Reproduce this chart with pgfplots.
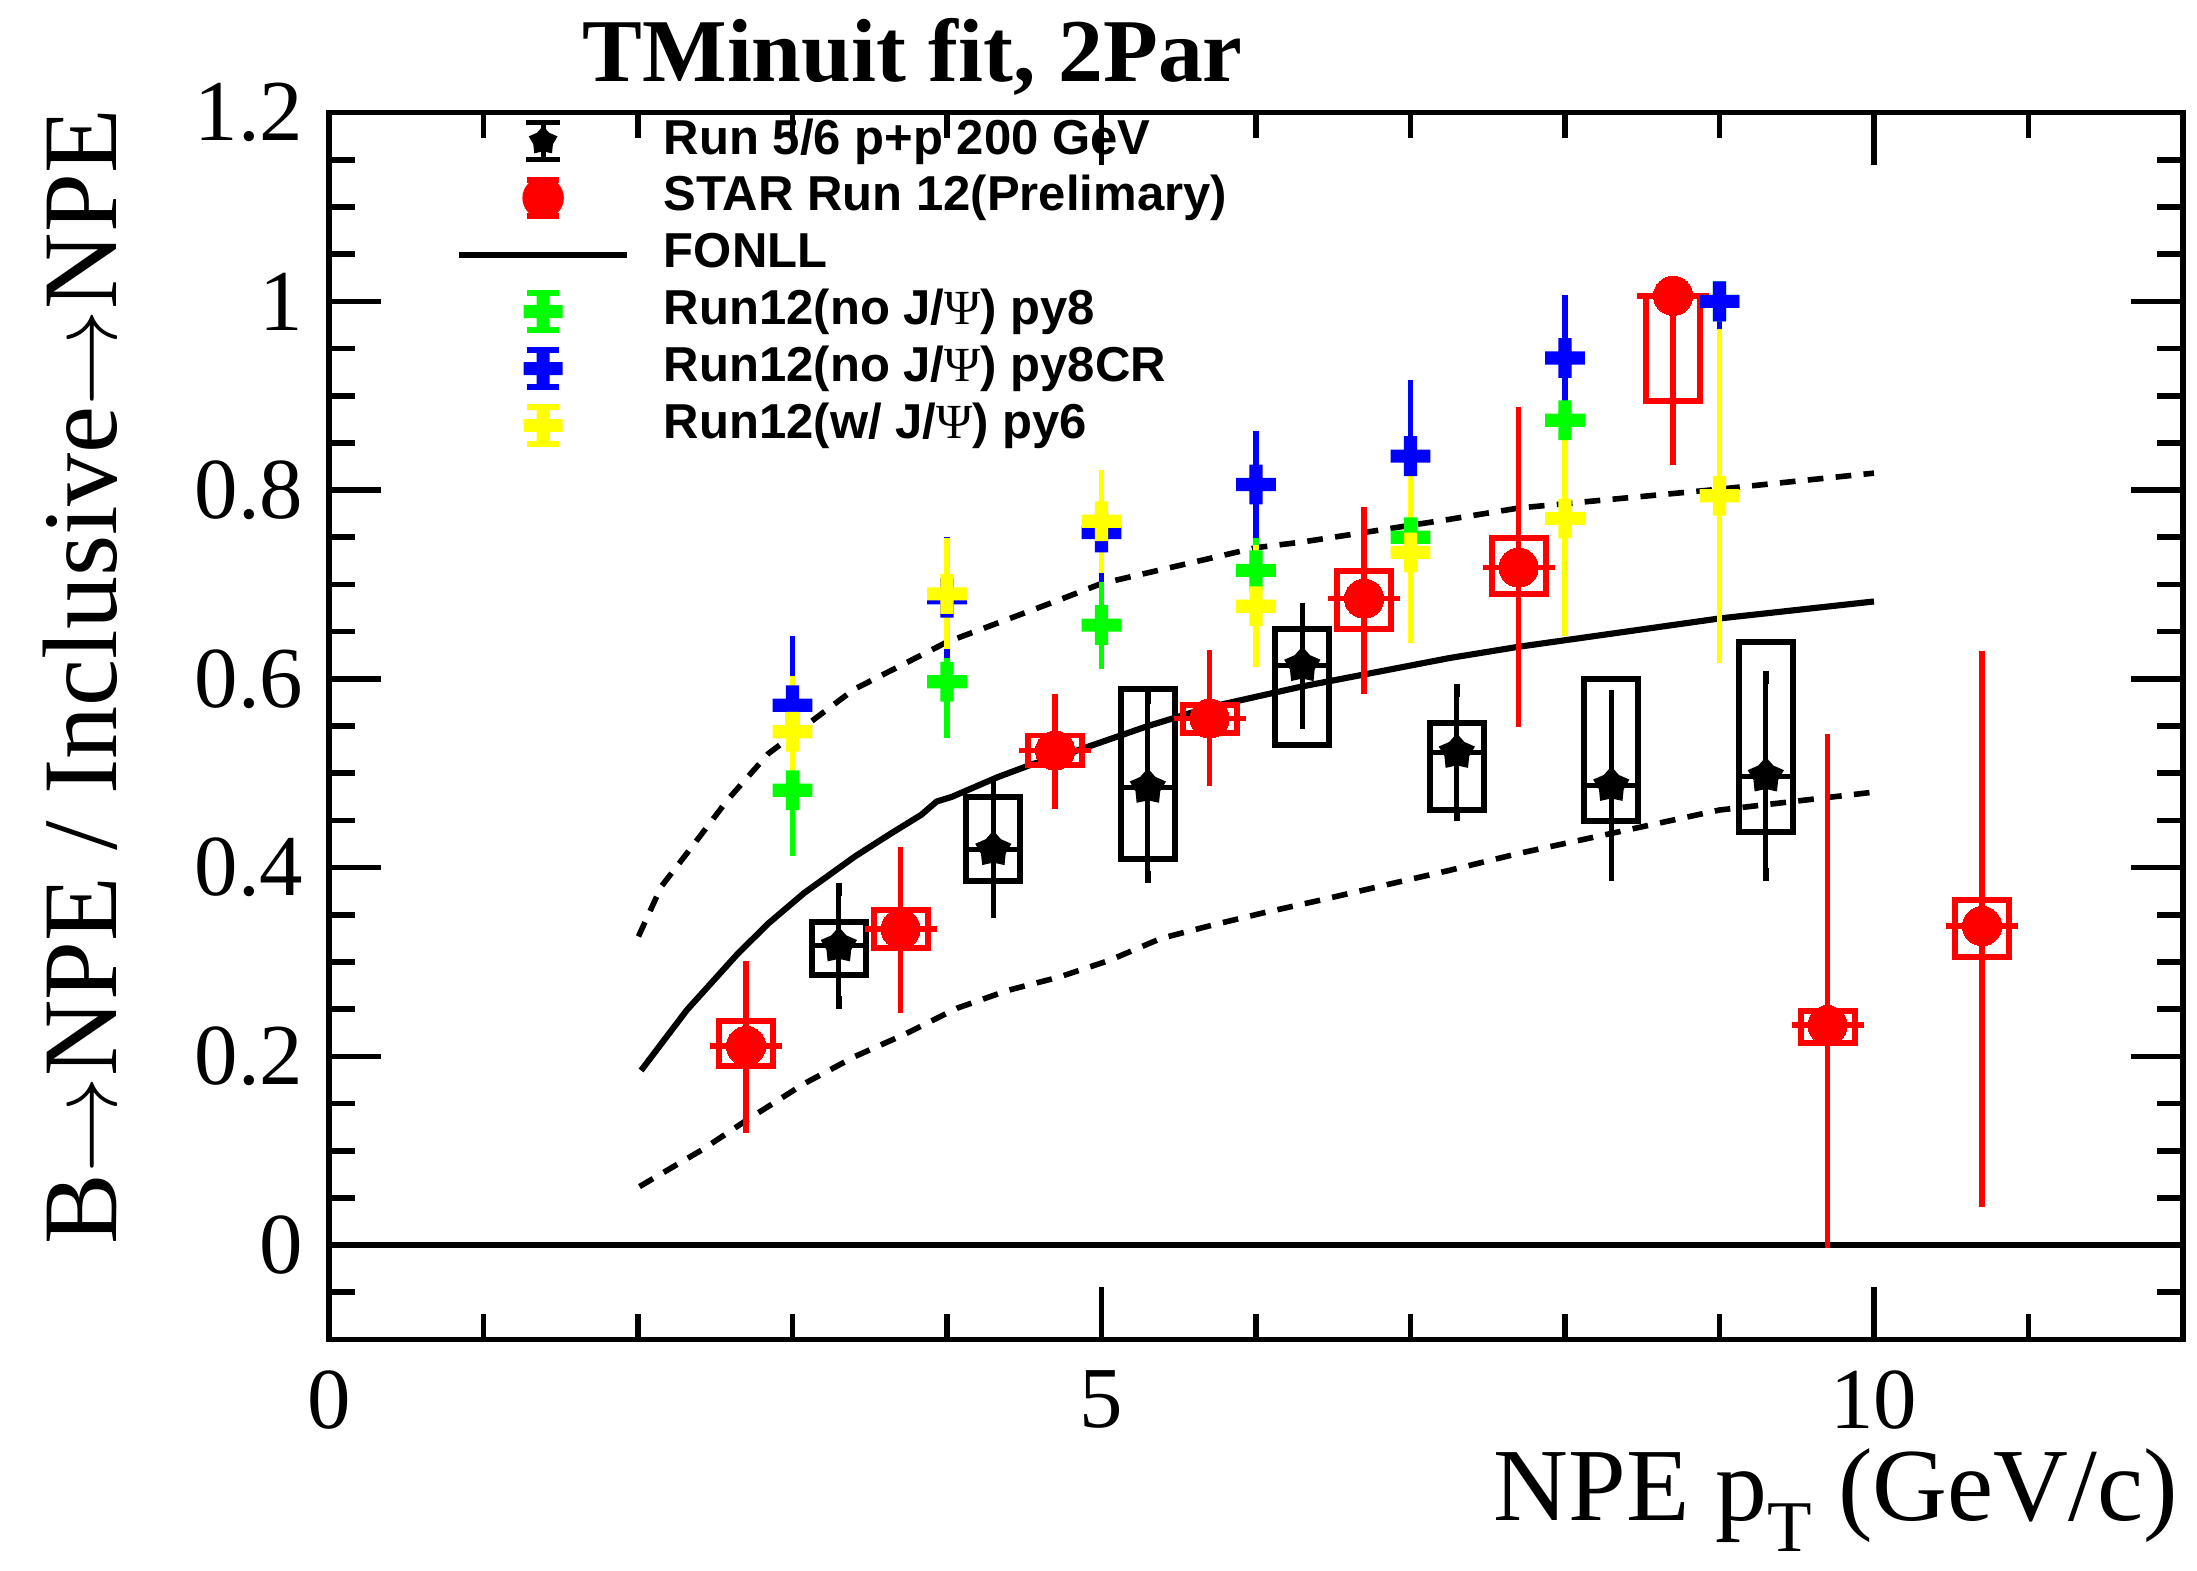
\documentclass[border=0pt]{standalone}
\usepackage{fontspec}
\setmainfont{Liberation Serif}
\newfontfamily\legfont{Liberation Sans}
\usepackage{pgfplots}
\pgfplotsset{compat=1.18}

\definecolor{rootred}{RGB}{255,0,0}
\definecolor{rootgreen}{RGB}{0,255,0}
\definecolor{rootblue}{RGB}{0,0,255}
\definecolor{rootyellow}{RGB}{255,255,0}

% thick ROOT-style cross (marker 34)
\pgfdeclareplotmark{fplus}{%
  \pgfpathrectanglecorners{\pgfpoint{-\pgfplotmarksize}{-0.33\pgfplotmarksize}}{\pgfpoint{\pgfplotmarksize}{0.33\pgfplotmarksize}}%
  \pgfpathrectanglecorners{\pgfpoint{-0.33\pgfplotmarksize}{-\pgfplotmarksize}}{\pgfpoint{0.33\pgfplotmarksize}{\pgfplotmarksize}}%
  \pgfusepathqfill}
% filled star (marker 29)
\pgfdeclareplotmark{fstar}{%
  \pgfpathmoveto{\pgfpointpolar{90}{\pgfplotmarksize}}%
  \pgfpathlineto{\pgfpointpolar{126}{0.68\pgfplotmarksize}}%
  \pgfpathlineto{\pgfpointpolar{162}{\pgfplotmarksize}}%
  \pgfpathlineto{\pgfpointpolar{198}{0.68\pgfplotmarksize}}%
  \pgfpathlineto{\pgfpointpolar{234}{\pgfplotmarksize}}%
  \pgfpathlineto{\pgfpointpolar{270}{0.68\pgfplotmarksize}}%
  \pgfpathlineto{\pgfpointpolar{306}{\pgfplotmarksize}}%
  \pgfpathlineto{\pgfpointpolar{342}{0.68\pgfplotmarksize}}%
  \pgfpathlineto{\pgfpointpolar{18}{\pgfplotmarksize}}%
  \pgfpathlineto{\pgfpointpolar{54}{0.68\pgfplotmarksize}}%
  \pgfpathclose\pgfusepathqfill}

\newcommand{\psiglyph}{{\rmfamily\mdseries Ψ}}
\newcommand{\arr}{\mbox{$\rightarrow$}}

\begin{document}
\begin{tikzpicture}
\useasboundingbox (0,0) rectangle (392pt,280.25pt);

\begin{axis}[at={(58.7pt,41.25pt)}, anchor=south west, scale only axis,
    width=330.8pt, height=218.9pt,
    xmin=0, xmax=12, ymin=-0.1, ymax=1.2,
    xtick={0,5,10}, minor xtick={1,2,3,4,6,7,8,9,11},
    ytick={0,0.2,0.4,0.6,0.8,1,1.2},
    minor ytick={-0.05,0.05,0.1,0.15,0.25,0.3,0.35,0.45,0.5,0.55,0.65,0.7,0.75,0.85,0.9,0.95,1.05,1.1,1.15},
    tick pos=both, tick align=inside,
    major tick length=9.3pt, minor tick length=4.6pt,
    axis line style={line width=1pt}, tick style={line width=1pt, black},
    /pgf/number format/assume math mode=true,
    tick label style={font=\fontsize{15.5}{16}\selectfont},
    yticklabel style={inner sep=0pt, xshift=-4.4pt},
    xticklabel style={inner sep=0pt, yshift=-5.4pt},
    legend cell align=left,
    legend style={at={(0.0685,1)}, anchor=north west, draw=none, fill=none,
      inner sep=0pt, outer sep=0pt, row sep=0pt, column sep=6pt,
      font=\legfont\bfseries\fontsize{8.75}{10}\selectfont,
      nodes={inner sep=0pt, text height=7.4pt, text depth=2.75pt}},
  ]

% zero line
\addplot[black, line width=1.2pt, forget plot] coordinates {(0,0) (12,0)};

% FONLL band and central value
\addplot[black, line width=1pt, dash pattern=on 2.8pt off 2.2pt, forget plot] coordinates {
  (2.003,0.327) (2.151,0.380) (2.349,0.422) (2.581,0.472) (2.845,0.521) (3.0,0.540)
  (3.4,0.589) (4.0,0.639) (4.7,0.682) (5.0,0.701) (6.0,0.739) (6.3,0.745)
  (7.25,0.769) (7.7,0.781) (9.0,0.801) (10.0,0.818)};
\addplot[black, line width=1pt, dash pattern=on 2.8pt off 2.2pt, forget plot] coordinates {
  (2.01,0.062) (2.415,0.101) (2.70,0.132) (3.075,0.171) (3.406,0.200) (3.735,0.224)
  (4.065,0.251) (4.396,0.270) (4.726,0.284) (5.056,0.302) (5.386,0.325) (5.716,0.339)
  (6.046,0.352) (6.376,0.364) (6.93,0.385) (7.25,0.397) (7.7,0.415) (9.0,0.461) (10.0,0.480)};
\addplot[black, line width=1.1pt, forget plot] coordinates {
  (2.02,0.185) (2.316,0.249) (2.647,0.309) (2.845,0.341) (3.075,0.373) (3.406,0.412)
  (3.636,0.436) (3.834,0.456) (3.933,0.470) (4.032,0.475) (4.33,0.496) (4.56,0.510)
  (4.7,0.516) (5.3,0.550) (5.7,0.570) (6.3,0.592) (7.25,0.622) (7.7,0.634)
  (9.0,0.664) (10.0,0.682)};

% Run 5/6 p+p: systematic boxes
\addplot[black, line width=1.05pt, line cap=rect, line join=miter, unbounded coords=jump, forget plot] coordinates {
  (3.125,0.286) (3.475,0.286) (3.475,0.342) (3.125,0.342) (3.125,0.286) (nan,nan)
  (4.125,0.386) (4.475,0.386) (4.475,0.475) (4.125,0.475) (4.125,0.386) (nan,nan)
  (5.125,0.409) (5.475,0.409) (5.475,0.589) (5.125,0.589) (5.125,0.409) (nan,nan)
  (6.125,0.530) (6.475,0.530) (6.475,0.653) (6.125,0.653) (6.125,0.530) (nan,nan)
  (7.125,0.461) (7.475,0.461) (7.475,0.553) (7.125,0.553) (7.125,0.461) (nan,nan)
  (8.125,0.449) (8.475,0.449) (8.475,0.600) (8.125,0.600) (8.125,0.449) (nan,nan)
  (9.125,0.438) (9.475,0.438) (9.475,0.639) (9.125,0.639) (9.125,0.438)};
% Run 5/6 p+p: x extent
\addplot[black, only marks, mark=none, forget plot,
  error bars/.cd, x dir=both, x explicit,
  error bar style={black, line width=0.9pt},
  error mark options={black, line width=0.9pt, mark size=1.1pt}] coordinates {
  (3.3,0.317) +- (0.15,0) (4.3,0.419) +- (0.15,0) (5.3,0.485) +- (0.15,0)
  (6.3,0.614) +- (0.15,0) (7.3,0.522) +- (0.15,0) (8.3,0.487) +- (0.15,0)
  (9.3,0.497) +- (0.15,0)};
% Run 5/6 p+p: points with stat. errors
\addplot[black, only marks, mark=fstar, mark size=3.4pt, forget plot,
  error bars/.cd, y dir=both, y explicit,
  error bar style={black, line width=0.9pt},
  error mark options={black, line width=1pt, mark size=1.15pt}] coordinates {
  (3.3,0.317) +- (0,0.060) (4.3,0.419) +- (0,0.066) (5.3,0.485) +- (0,0.095)
  (6.3,0.614) +- (0,0.060) (7.3,0.522) +- (0,0.066) (8.3,0.487) +- (0,0.094)
  (9.3,0.497) +- (0,0.104)};

% STAR Run 12: systematic boxes
\addplot[rootred, line width=1.05pt, line cap=rect, line join=miter, unbounded coords=jump, forget plot] coordinates {
  (2.525,0.190) (2.875,0.190) (2.875,0.237) (2.525,0.237) (2.525,0.190) (nan,nan)
  (3.525,0.315) (3.875,0.315) (3.875,0.355) (3.525,0.355) (3.525,0.315) (nan,nan)
  (4.525,0.509) (4.875,0.509) (4.875,0.540) (4.525,0.540) (4.525,0.509) (nan,nan)
  (5.525,0.543) (5.875,0.543) (5.875,0.572) (5.525,0.572) (5.525,0.543) (nan,nan)
  (6.525,0.653) (6.875,0.653) (6.875,0.714) (6.525,0.714) (6.525,0.653) (nan,nan)
  (7.525,0.690) (7.875,0.690) (7.875,0.749) (7.525,0.749) (7.525,0.690) (nan,nan)
  (8.525,0.894) (8.875,0.894) (8.875,1.006) (8.525,1.006) (8.525,0.894) (nan,nan)
  (9.525,0.214) (9.875,0.214) (9.875,0.248) (9.525,0.248) (9.525,0.214) (nan,nan)
  (10.525,0.305) (10.875,0.305) (10.875,0.366) (10.525,0.366) (10.525,0.305)};
% STAR Run 12: x extent
\addplot[rootred, only marks, mark=none, forget plot,
  error bars/.cd, x dir=both, x explicit,
  error bar style={rootred, line width=1pt},
  error mark options={rootred, line width=1pt, mark size=2.3pt}] coordinates {
  (2.7,0.211) +- (0.15,0) (3.7,0.335) +- (0.15,0) (4.7,0.524) +- (0.15,0)
  (5.7,0.558) +- (0.15,0) (6.7,0.685) +- (0.15,0) (7.7,0.718) +- (0.15,0)
  (8.7,1.006) +- (0.15,0) (9.7,0.233) +- (0.15,0) (10.7,0.338) +- (0.15,0)};
% STAR Run 12: points with stat. errors
\addplot[rootred, only marks, mark=*, mark size=3.5pt, mark options={draw=rootred, fill=rootred, line width=0pt}, forget plot,
  error bars/.cd, y dir=both, y explicit,
  error bar style={rootred, line width=1pt},
  error mark options={rootred, line width=1pt, mark size=1.25pt}] coordinates {
  (2.7,0.211) += (0,0.083) -= (0,0.085)
  (3.7,0.335) += (0,0.079) -= (0,0.082)
  (4.7,0.524) += (0,0.053) -= (0,0.054)
  (5.7,0.558) += (0,0.065) -= (0,0.064)
  (6.7,0.685) += (0,0.090) -= (0,0.094)
  (7.7,0.718) += (0,0.163) -= (0,0.162)
  (8.7,1.006) += (0,0.0)   -= (0,0.172)
  (9.7,0.233) += (0,0.301) -= (0,0.229)
  (10.7,0.338) += (0,0.284) -= (0,0.290)};

% Run12 (no J/psi) py8
\addplot[rootgreen, only marks, mark=fplus, mark size=3.55pt, forget plot,
  error bars/.cd, y dir=both, y explicit,
  error bar style={rootgreen, line width=1.05pt},
  error mark options={rootgreen, line width=0.9pt, mark size=1.15pt}] coordinates {
  (3,0.482) +- (0,0.063) (4,0.597) +- (0,0.053) (5,0.657) +- (0,0.040)
  (6,0.715) +- (0,0.045) (7,0.750) +- (0,0.075) (8,0.874) +- (0,0.085)
  (9,1.000) += (0,0.0) -= (0,0.088)};
% Run12 (no J/psi) py8CR
\addplot[rootblue, only marks, mark=fplus, mark size=3.55pt, forget plot,
  error bars/.cd, y dir=both, y explicit,
  error bar style={rootblue, line width=1.05pt},
  error mark options={rootblue, line width=0.9pt, mark size=1.15pt}] coordinates {
  (3,0.572) +- (0,0.067) (4,0.686) +- (0,0.057) (5,0.755) +- (0,0.046)
  (6,0.806) +- (0,0.050) (7,0.836) +- (0,0.074)
  (8,0.940) += (0,0.060) -= (0,0.102)
  (9,1.000) += (0,0.0) -= (0,0.090)};
% Run12 (w/ J/psi) py6
\addplot[rootyellow, only marks, mark=fplus, mark size=3.55pt, forget plot,
  error bars/.cd, y dir=both, y explicit,
  error bar style={rootyellow, line width=1.05pt},
  error mark options={rootyellow, line width=0.9pt, mark size=1.15pt}] coordinates {
  (3,0.544) +- (0,0.052) (4,0.690) +- (0,0.052) (5,0.767) +- (0,0.048)
  (6,0.677) +- (0,0.058) (7,0.734) +- (0,0.089) (8,0.770) +- (0,0.118)
  (9,0.794) +- (0,0.170)};

% legend
\addlegendimage{legend image code/.code={
  \path[draw=none, fill=none] (0pt,0pt) -- (30pt,0pt);
  \draw[black, line width=0.9pt] (15pt,-3.3pt) -- (15pt,3.3pt);
  \draw[black, line width=1pt] (12pt,-3.3pt) -- (18pt,-3.3pt) (12pt,3.3pt) -- (18pt,3.3pt);
  \begin{scope}[black, shift={(15pt,0pt)}]\pgfsetplotmarksize{2.7pt}\pgfuseplotmark{fstar}\end{scope}}}
\addlegendentry{Run 5/6 p+p 200 GeV}
\addlegendimage{legend image code/.code={
  \path[draw=none, fill=none] (0pt,0pt) -- (30pt,0pt);
  \fill[rootred] (15pt,0pt) circle (3.5pt);
  \draw[rootred, line width=1pt] (12.2pt,-3.2pt) -- (17.8pt,-3.2pt) (12.2pt,3.2pt) -- (17.8pt,3.2pt);}}
\addlegendentry{STAR Run 12(Prelimary)}
\addlegendimage{legend image code/.code={
  \draw[black, line width=1.1pt] (0pt,0pt) -- (30pt,0pt);}}
\addlegendentry{FONLL}
\addlegendimage{legend image code/.code={
  \path[draw=none, fill=none] (0pt,0pt) -- (30pt,0pt);
  \draw[rootgreen, line width=1pt] (15pt,-3.3pt) -- (15pt,3.3pt) (12.1pt,-3.3pt) -- (17.9pt,-3.3pt) (12.1pt,3.3pt) -- (17.9pt,3.3pt);
  \begin{scope}[rootgreen, shift={(15pt,0pt)}]\pgfsetplotmarksize{3.5pt}\pgfuseplotmark{fplus}\end{scope}}}
\addlegendentry{Run12(no J/\psiglyph) py8}
\addlegendimage{legend image code/.code={
  \path[draw=none, fill=none] (0pt,0pt) -- (30pt,0pt);
  \draw[rootblue, line width=1pt] (15pt,-3.3pt) -- (15pt,3.3pt) (12.1pt,-3.3pt) -- (17.9pt,-3.3pt) (12.1pt,3.3pt) -- (17.9pt,3.3pt);
  \begin{scope}[rootblue, shift={(15pt,0pt)}]\pgfsetplotmarksize{3.5pt}\pgfuseplotmark{fplus}\end{scope}}}
\addlegendentry{Run12(no J/\psiglyph) py8CR}
\addlegendimage{legend image code/.code={
  \path[draw=none, fill=none] (0pt,0pt) -- (30pt,0pt);
  \draw[rootyellow, line width=1pt] (15pt,-3.3pt) -- (15pt,3.3pt) (12.1pt,-3.3pt) -- (17.9pt,-3.3pt) (12.1pt,3.3pt) -- (17.9pt,3.3pt);
  \begin{scope}[rootyellow, shift={(15pt,0pt)}]\pgfsetplotmarksize{3.5pt}\pgfuseplotmark{fplus}\end{scope}}}
\addlegendentry{Run12(w/ J/\psiglyph) py6}
\end{axis}

% title and axis titles
\node[anchor=base west, inner sep=0pt, font=\fontsize{16}{18}\selectfont\bfseries] at (103.75pt,265.75pt) {TMinuit fit, 2Par};
\node[rotate=90, anchor=base, inner sep=0pt, font=\fontsize{18.9}{20}\selectfont] at (20.75pt,159.5pt) {B\arr NPE / Inclusive\arr NPE};
\node[anchor=base east, inner sep=0pt, font=\fontsize{18.5}{20}\selectfont] at (388.75pt,9pt)
  {NPE p\raisebox{-5.5pt}{\fontsize{13}{13}\selectfont T} (GeV/c)};
\end{tikzpicture}
\end{document}
